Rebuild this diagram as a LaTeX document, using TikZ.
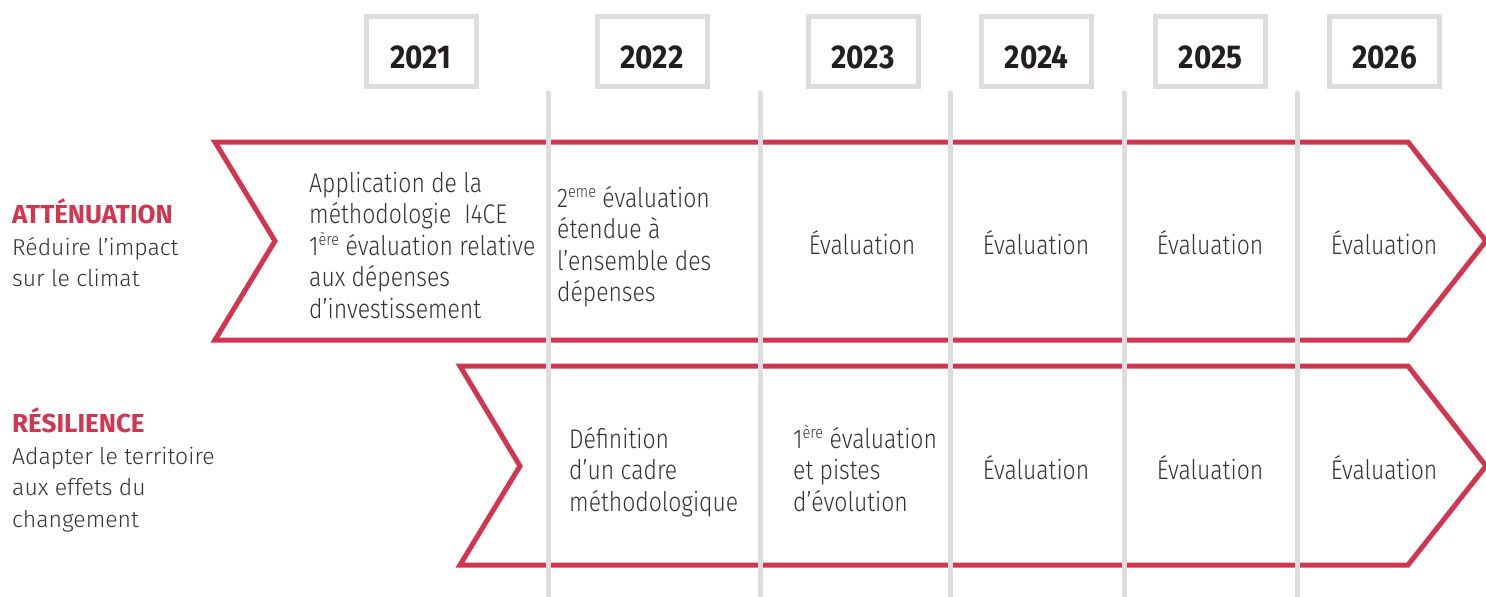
\documentclass[tikz,border=0pt]{standalone}
\usepackage{fontspec}
\setmainfont{Fira Sans Light}
\newfontfamily\celltext{Fira Sans Light}[FakeStretch=0.85]
\newfontfamily\sidetext{Fira Sans Light}
\newfontfamily\headtext{Fira Sans}
\newfontfamily\yeartext{Fira Sans}[FakeStretch=0.9]
\definecolor{axisred}{HTML}{D1354F}
\definecolor{gridgrey}{HTML}{DCDDDF}
\definecolor{inkgrey}{HTML}{333333}
\definecolor{inkblack}{HTML}{231F20}
% small raised ordinal suffix that does not disturb the line spacing
\newcommand{\ordsup}[1]{\smash{\raisebox{0.36em}{\fontsize{17}{17}\selectfont #1}}}
\tikzset{
  phase/.style={draw=axisred, line width=5pt, line join=miter},
  yearbox/.style={draw=gridgrey, line width=5pt, minimum width=110pt, minimum height=70pt, inner sep=0pt},
  yearlabel/.style={font=\yeartext\bfseries\fontsize{33}{33}\selectfont, text=inkblack, inner sep=0pt, anchor=base},
  gridline/.style={draw=gridgrey, line width=5pt, line cap=round},
  % multi-line nodes are anchored on the baseline of their last line
  cell/.style={font=\celltext\fontsize{27}{31.5}\selectfont, text=inkgrey, align=left, inner sep=0pt, anchor=base west},
  eval/.style={font=\celltext\fontsize{27}{31.5}\selectfont, text=inkgrey, inner sep=0pt, anchor=base},
  heading/.style={font=\headtext\bfseries\fontsize{26}{31.5}\selectfont, text=axisred, inner sep=0pt, anchor=base west},
  side/.style={font=\sidetext\fontsize{23}{31.5}\selectfont, text=inkgrey, align=left, inner sep=0pt, anchor=base west},
}
\begin{document}
\begin{tikzpicture}[x=1pt,y=-1pt]
\useasboundingbox (0,0) rectangle (1486,597);

% year header boxes
\foreach \yr/\cx in {2021/421,2022/652,2023/863,2024/1036.5,2025/1210.5,2026/1384.5}{
  \node[yearbox] (box\yr) at (\cx,51.5) {};
  \node[yearlabel] (lbl\yr) at (\cx,68) {\yr};
}

% chevron bands
\draw[phase] (215,142) -- (1408,142) -- (1486,241) -- (1408,340) -- (215,340) -- (275,241) -- cycle;
\draw[phase] (460,366) -- (1408,366) -- (1486,466) -- (1408,565) -- (460,565) -- (520,466) -- cycle;

% year separators
\foreach \gx/\gn in {548/a,760/b,950/c,1124/d,1297/e}{
  \coordinate (sep\gn top) at (\gx,93);
  \coordinate (sep\gn bot) at (\gx,600);
  \draw[gridline] (sep\gn top) -- (sep\gn bot);
}

% row headings
\node[heading] (attn) at (12,223) {ATTÉNUATION};
\node[side] (attntxt) at (12,286.5) {Réduire l’impact\\sur le climat};
\node[heading] (resil) at (12,432) {RÉSILIENCE};
\node[side] (resiltxt) at (12,527) {Adapter le territoire\\aux effets du\\changement};

% mitigation row
\node[cell] (m21) at (309,318) {Application de la\\méthodologie~ I4CE\\1\ordsup{ère} évaluation relative\\aux dépenses\\d’investissement};
\node[cell] (m22) at (557,301.5) {2\ordsup{eme} évaluation\\étendue à\\l’ensemble des\\dépenses};
\node[eval] (m23) at (862,254) {Évaluation};
\node[eval] (m24) at (1036,254) {Évaluation};
\node[eval] (m25) at (1210,254) {Évaluation};
\node[eval] (m26) at (1384,254) {Évaluation};

% resilience row
\node[cell] (r22) at (569,511) {Définition\\d’un cadre\\méthodologique};
\node[cell] (r23) at (793,511) {1\ordsup{ère} évaluation\\et pistes\\d’évolution};
\node[eval] (r24) at (1036,479) {Évaluation};
\node[eval] (r25) at (1210,479) {Évaluation};
\node[eval] (r26) at (1384,479) {Évaluation};
\end{tikzpicture}
\end{document}
